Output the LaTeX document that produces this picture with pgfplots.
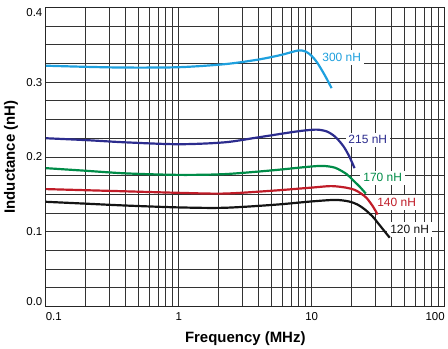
\documentclass[border=0pt]{standalone}
\usepackage{fontspec}
\setmainfont{Liberation Sans}
\usepackage{pgfplots}
\pgfplotsset{compat=1.18}
\definecolor{c300}{RGB}{30,160,222}
\definecolor{c215}{RGB}{44,44,142}
\definecolor{c170}{RGB}{0,140,72}
\definecolor{c140}{RGB}{192,28,40}
\definecolor{c120}{RGB}{20,20,20}
\begin{document}
\begin{tikzpicture}
\begin{axis}[
  scale only axis, width=400pt, height=300pt,
  xmode=log, xmin=0.1, xmax=100, ymin=0, ymax=0.4,
  xtick={0.1,1,10,100},
  xticklabels={\makebox[0pt][l]{0.1},1,10,\makebox[0pt][r]{100}},
  ytick={0,0.1,0.2,0.3,0.4},
  yticklabels={\raisebox{5pt}[\height][\depth]{0.0},0.1,0.2,0.3,\raisebox{-5pt}[\height][\depth]{0.4}},
  minor y tick num=3,
  grid=both,
  major grid style={black!80, line width=0.85pt},
  minor grid style={black!80, line width=0.85pt},
  axis line style={black!85, line width=0.9pt},
  major tick length=0pt, minor tick length=0pt,
  tick label style={font=\fontsize{11.5}{13}\selectfont},
  xticklabel style={anchor=base, yshift=-14.5pt},
  xlabel={Frequency (MHz)}, ylabel={Inductance (nH)},
  every axis x label/.style={at={(rel axis cs:0.5,0)}, anchor=base, yshift=-36pt, font=\fontsize{15}{17}\selectfont\bfseries},
  every axis y label/.style={at={(rel axis cs:0,0.5)}, anchor=base, rotate=90, yshift=31pt, font=\fontsize{15}{17}\selectfont\bfseries},
  clip=false,
]
\path (rel axis cs:0,0) ++(-46pt,-40pt) coordinate (bbA);
\path (rel axis cs:1,1) ++(2pt,2pt) coordinate (bbB);
\path[use as bounding box] (bbA) rectangle (bbB);

\begin{scope}[every node/.style={fill=white, inner xsep=3pt, inner ysep=3pt, font=\fontsize{12}{14}\selectfont}]
\node[text=c300] at (axis cs:16.8,0.333) {300 nH};
\node[text=c215] at (axis cs:26.4,0.223) {215 nH};
\node[text=c170] at (axis cs:34.2,0.172) {170 nH};
\node[text=c140] at (axis cs:43.5,0.139) {140 nH};
\node[text=c120] at (axis cs:54.5,0.103) {120 nH};
\end{scope}

\addplot[c300, line width=2.2pt, smooth, tension=0.5] coordinates {
(0.1,0.322) (0.2,0.3205) (0.4,0.3195) (1,0.320) (2.2,0.324) (3.9,0.330) (5.75,0.336) (7,0.340) (8,0.3425) (9,0.341) (10,0.335) (11,0.326) (12.1,0.314) (13.1,0.303) (14.1,0.292)};
\addplot[c215, line width=2.2pt, smooth, tension=0.5] coordinates {
(0.1,0.225) (0.2,0.2225) (0.4,0.2195) (1,0.217) (2.2,0.2195) (3.9,0.226) (7,0.233) (9,0.2355) (11,0.2365) (13,0.234) (15,0.227) (17.2,0.215) (19,0.202) (21,0.185)};
\addplot[c170, line width=2.2pt, smooth, tension=0.5] coordinates {
(0.1,0.185) (0.2,0.1815) (0.4,0.178) (1,0.176) (2.2,0.177) (5,0.182) (9,0.1865) (12,0.188) (15,0.1855) (18.3,0.177) (20.4,0.169) (23,0.160) (25.5,0.151)};
\addplot[c140, line width=2.2pt, smooth, tension=0.5] coordinates {
(0.1,0.157) (0.2,0.1555) (0.4,0.154) (1,0.152) (2.2,0.151) (5.2,0.155) (10,0.159) (14,0.161) (18,0.159) (21,0.156) (23.5,0.151) (25.9,0.145) (28.8,0.134) (31.3,0.123)};
\addplot[c120, line width=2.2pt, smooth, tension=0.5] coordinates {
(0.1,0.140) (0.2,0.1375) (0.4,0.135) (1,0.1325) (2.2,0.132) (5.2,0.136) (10,0.1405) (15,0.1425) (19,0.1405) (22,0.1365) (25,0.130) (28.8,0.120) (32,0.110) (35.5,0.100) (38.6,0.092)};
\end{axis}
\end{tikzpicture}
\end{document}
